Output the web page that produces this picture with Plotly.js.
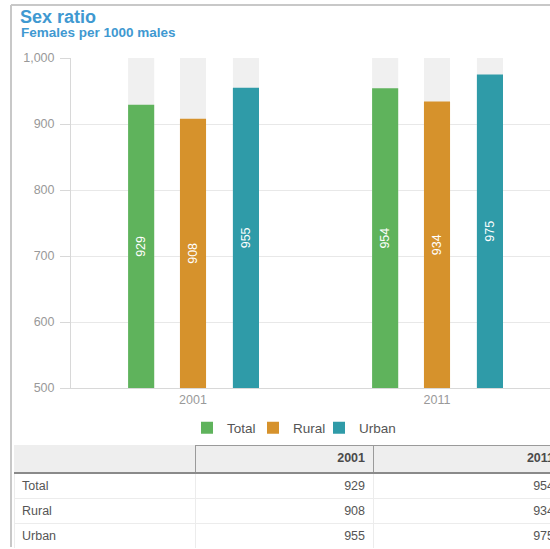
<!DOCTYPE html>
<html>
<head>
<meta charset="utf-8">
<script src="https://cdn.plot.ly/plotly-3.0.1.min.js"></script>
<style>
html,body{margin:0;padding:0;background:#fff;overflow:hidden;}
#wrap{width:550px;height:549px;overflow:hidden;}
#chart{width:590px;height:549px;}
</style>
</head>
<body>
<div id="wrap"><div id="chart"></div></div>
<script>
// ---- data ----
var years = ['2001', '2011'];
var seriesNames = ['Total', 'Rural', 'Urban'];
var totalValues = [929, 954];
var ruralValues = [908, 934];
var urbanValues = [955, 975];
var axisMin = 500;
var axisMax = 1000;
var yTicks = [500, 600, 700, 800, 900, 1000];

// ---- style ----
var colors = ['#5fb35c', '#d6922c', '#2f9ba8'];
var barWidth = 0.107;
var offsets = [-0.266, -0.0535, 0.1635];
var legendWidths = [21, 21, 45];
var FONT = 'Liberation Sans, Arial, sans-serif';
var W = 590, H = 549;

var seriesValues = [totalValues, ruralValues, urbanValues];
var traces = [];

// gray backgrounds up to axis max
seriesValues.forEach(function (vals, i) {
  traces.push({
    type: 'bar', x: years,
    y: years.map(function () { return axisMax - axisMin; }),
    base: axisMin,
    width: barWidth, offset: offsets[i],
    marker: {color: '#f0f0f0'},
    showlegend: false, hoverinfo: 'skip'
  });
});
// value bars
seriesValues.forEach(function (vals, i) {
  traces.push({
    type: 'bar', name: seriesNames[i], x: years,
    y: vals.map(function (v) { return v - axisMin; }),
    base: axisMin,
    width: barWidth, offset: offsets[i],
    marker: {color: colors[i]},
    legendwidth: legendWidths[i],
    text: vals.map(String),
    textposition: 'inside', insidetextanchor: 'middle',
    textangle: -90,
    textfont: {family: FONT, size: 12.5, color: '#ffffff'},
    customdata: vals,
    hovertemplate: '%{customdata}<extra>' + seriesNames[i] + '</extra>'
  });
});

// table
var headerVals = [''].concat(years);
var cellCols = [seriesNames].concat(years.map(function (y, j) {
  return seriesValues.map(function (vals) { return String(vals[j]); });
}));
traces.push({
  type: 'table',
  domain: {x: [14 / W, 562 / W], y: [0, 1 - 445 / H]},
  columnwidth: [181, 178, 189],
  header: {
    values: headerVals,
    align: ['left', 'right', 'right'],
    height: 28,
    fill: {color: '#eeeeee'},
    line: {color: ['#eeeeee', '#9a9a9a', '#9a9a9a'], width: 1},
    font: {family: FONT, size: 12.5, color: '#4a4a4a', weight: 'bold'}
  },
  cells: {
    values: cellCols,
    align: ['left', 'right', 'right'],
    height: 25,
    fill: {color: '#ffffff'},
    line: {color: '#ececec', width: 1},
    font: {family: FONT, size: 12.5, color: '#555555'}
  }
});

var layout = {
  width: W, height: H,
  margin: {l: 0, r: 0, t: 0, b: 0},
  paper_bgcolor: '#ffffff', plot_bgcolor: '#ffffff',
  barmode: 'overlay',
  font: {family: FONT, color: '#999999'},
  title: {
    text: '<b>Sex ratio</b>',
    font: {family: FONT, size: 18, color: '#3f99d1'},
    xref: 'paper', x: 20 / W, xanchor: 'left',
    yref: 'paper', y: 1 - 16.5 / H, yanchor: 'middle'
  },
  annotations: [{
    text: '<b>Females per 1000 males</b>',
    xref: 'paper', yref: 'paper', x: 19 / W, y: 1 - 33 / H,
    xanchor: 'left', yanchor: 'middle', showarrow: false,
    font: {family: FONT, size: 13.5, color: '#3f99d1'}
  }],
  xaxis: {
    type: 'category', domain: [71 / W, 559 / W], range: [-0.5, 1.5],
    showgrid: false, zeroline: false, showline: true, linecolor: '#d8d8d8',
    ticks: '', tickfont: {family: FONT, size: 12.5, color: '#999999'},
    fixedrange: true, automargin: false
  },
  yaxis: {
    domain: [1 - 388 / H, 1 - 58 / H], range: [axisMin, axisMax],
    tickvals: yTicks, tickformat: ',d',
    showgrid: true, gridcolor: '#e8e8e8', zeroline: false,
    showline: true, linecolor: '#d8d8d8',
    ticks: 'outside', ticklen: 10, tickcolor: '#d8d8d8',
    ticklabelstandoff: 3,
    tickfont: {family: FONT, size: 12.5, color: '#999999'},
    fixedrange: true, automargin: false
  },
  legend: {
    orientation: 'h', x: 187 / W, xanchor: 'left',
    y: 1 - 428 / H, yanchor: 'middle',
    font: {family: FONT, size: 13.5, color: '#555555'},
    traceorder: 'normal'
  },
  shapes: [
    {type: 'line', xref: 'paper', yref: 'paper', x0: 11 / W, x1: 1, y0: 1 - 5 / H, y1: 1 - 5 / H,
     line: {color: '#c8c8c8', width: 2}},
    {type: 'line', xref: 'paper', yref: 'paper', x0: 11 / W, x1: 11 / W, y0: 1 - 5 / H, y1: 1 - 547 / H,
     line: {color: '#c8c8c8', width: 2}},
    {type: 'line', xref: 'paper', yref: 'paper', x0: 14 / W, x1: 1, y0: 1 - 473 / H, y1: 1 - 473 / H,
     line: {color: '#8a8a8a', width: 2}}
  ]
};

Plotly.newPlot('chart', traces, layout, {displayModeBar: false, staticPlot: true});
</script>
</body>
</html>
